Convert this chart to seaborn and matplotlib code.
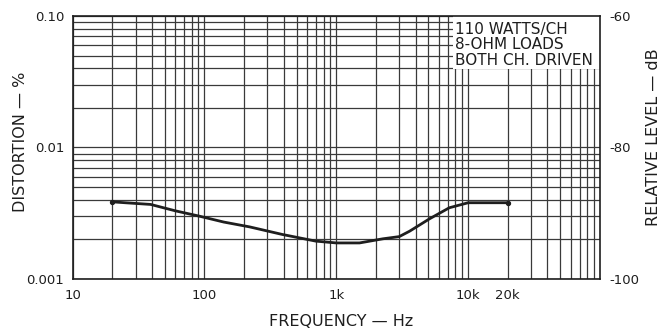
import matplotlib
matplotlib.use("Agg")
import matplotlib.pyplot as plt
import matplotlib.ticker as mticker
import seaborn as sns
import pandas as pd

# THD vs frequency
freq_hz = [20, 25, 39, 60, 92, 140, 220, 390, 700, 1000, 1500, 2250,
           3000, 3600, 5100, 7200, 10000, 15000, 20000]
thd_pct = [0.00386, 0.0038, 0.00369, 0.0033, 0.0030, 0.00271, 0.00249,
           0.00218, 0.00194, 0.00188, 0.00188, 0.00202, 0.0021, 0.00231,
           0.00287, 0.00348, 0.0038, 0.0038, 0.0038]

x_ticks = [10, 100, 1000, 10000, 20000]
x_tick_labels = ["10", "100", "1k", "10k", "20k"]
y_ticks = [0.001, 0.01, 0.1]
y_tick_labels = ["0.001", "0.01", "0.10"]
db_ticks = [-100, -80, -60]
db_tick_labels = ["-100", "-80", "-60"]
note_lines = ["110 WATTS/CH", "8-OHM LOADS", "BOTH CH. DRIVEN"]

df = pd.DataFrame({"freq": freq_hz, "thd": thd_pct})

sns.set_theme(style="white")
plt.rcParams["font.family"] = ["DejaVu Sans"]
ink = "#1e1e1e"
grid_col = "#3a3a3a"

fig = plt.figure(figsize=(6.71, 3.33), dpi=100)
ax = fig.add_axes([0.1083, 0.1622, 0.7858, 0.7898])

ax.set_xscale("log")
ax.set_yscale("log")
ax.set_xlim(10, 100000)
ax.set_ylim(0.001, 0.1)

sns.lineplot(data=df, x="freq", y="thd", ax=ax, color=ink, linewidth=2.0,
             zorder=3, legend=False)
# end markers of the measured curve
ends = df.iloc[[0, -1]]
ax.scatter(ends["freq"], ends["thd"], s=8, color=ink, zorder=3)

ax.xaxis.set_major_locator(mticker.FixedLocator(x_ticks))
ax.xaxis.set_major_formatter(mticker.FixedFormatter(x_tick_labels))
ax.xaxis.set_minor_locator(mticker.LogLocator(base=10, subs=range(2, 10), numticks=20))
ax.xaxis.set_minor_formatter(mticker.NullFormatter())
ax.yaxis.set_major_locator(mticker.FixedLocator(y_ticks))
ax.yaxis.set_major_formatter(mticker.FixedFormatter(y_tick_labels))
ax.yaxis.set_minor_locator(mticker.LogLocator(base=10, subs=range(2, 10), numticks=20))
ax.yaxis.set_minor_formatter(mticker.NullFormatter())

ax.grid(which="both", color=grid_col, linewidth=0.9)
ax.set_axisbelow(True)
ax.tick_params(which="both", length=0, labelsize=9.5, colors=ink)
ax.tick_params(axis="x", pad=7)
ax.tick_params(axis="y", pad=6)
for sp in ax.spines.values():
    sp.set_color(ink)
    sp.set_linewidth(1.2)
    sp.set_zorder(5)

ax.set_xlabel("FREQUENCY — Hz", fontsize=11.5, color=ink)
ax.set_ylabel("DISTORTION — %", fontsize=11.5, color=ink)
ax.xaxis.set_label_coords(0.51, -0.135)
ax.yaxis.set_label_coords(-0.084, 0.52)

# right-hand dB scale (40 dB = two decades)
ax2 = ax.twinx()
ax2.set_ylim(-100, -60)
ax2.set_yticks(db_ticks)
ax2.set_yticklabels(db_tick_labels)
ax2.tick_params(length=0, labelsize=9.5, colors=ink, pad=7)
ax2.grid(False)
for sp in ax2.spines.values():
    sp.set_visible(False)
ax2.set_ylabel("RELATIVE LEVEL — dB", fontsize=11.5, color=ink)
ax2.yaxis.set_label_coords(1.087, 0.54)

# white note panel over the grid, top right
ax.add_patch(plt.Rectangle((0.721, 0.80), 0.279, 0.20, transform=ax.transAxes,
                           facecolor="white", edgecolor="none", zorder=2))
ax.text(0.726, 0.978, "\n".join(note_lines), transform=ax.transAxes,
        ha="left", va="top", fontsize=11, color=ink, linespacing=1.05, zorder=4)

plt.savefig("out.png", dpi=100)
plt.close()
